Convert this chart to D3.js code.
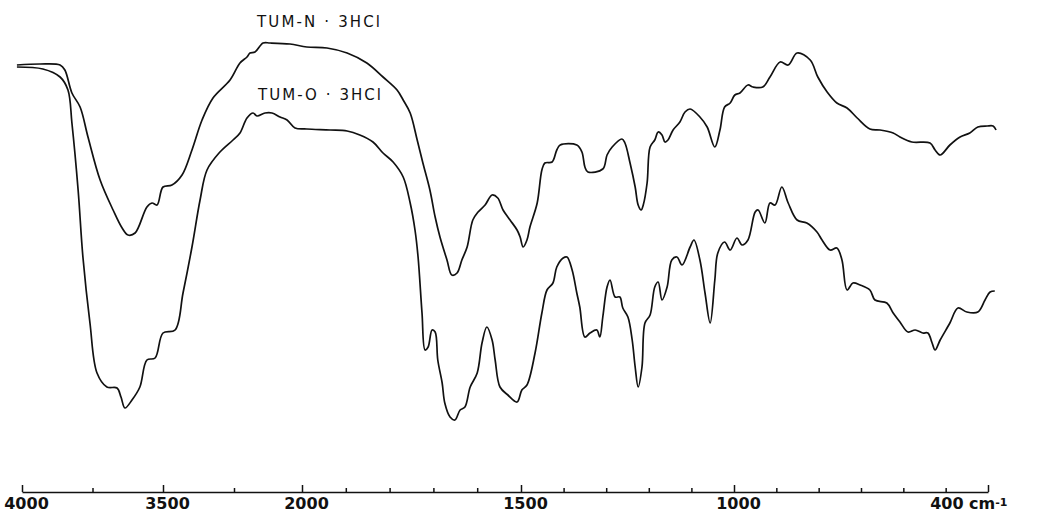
<!DOCTYPE html>
<html>
<head>
<meta charset="utf-8">
<script src="https://cdn.jsdelivr.net/npm/d3@7"></script>
<style>
    body { margin: 0; background: #fff; }
    svg { display: block; }
</style>
</head>
<body>
<div id="spectrum"></div>
<script>
// data (wavenumber in cm-1, transmittance in %)
var seriesNames = ['TUM-N · 3HCl', 'TUM-O · 3HCl'];

var nWave = [4018, 3936, 3865, 3848, 3823, 3794, 3766, 3723, 3677, 3645, 3624, 3599, 3557, 3539, 3521, 3500,
    3437, 3366, 3296, 3225, 3148, 3028, 2912, 2809, 2765, 2691, 2573, 2470, 2176, 1989, 1943, 1897, 1852, 1815,
    1783, 1769, 1753, 1737, 1724, 1708, 1696, 1685, 1669, 1658, 1646, 1635, 1623, 1610, 1598, 1582, 1566, 1553,
    1541, 1525, 1509, 1502, 1495, 1486, 1479, 1462, 1451, 1444, 1427, 1416, 1408, 1369, 1357, 1350, 1343, 1308,
    1298, 1286, 1263, 1256, 1244, 1232, 1225, 1218, 1213, 1204, 1197, 1186, 1178, 1169, 1162, 1155, 1143, 1127,
    1115, 1103, 1080, 1063, 1045, 1033, 1022, 1009, 998, 986, 967, 955, 932, 915, 891, 872, 851, 820, 802, 780,
    757, 733, 709, 679, 655, 624, 608, 580, 537, 525, 513, 490, 466, 443, 424, 402, 388, 381];
var nTrans = [87, 87.2, 87, 86, 81.4, 78.6, 72.6, 64, 58, 54.4, 53, 53.4, 58.6, 59.4, 59, 62.6,
    63, 65, 70, 76, 80.4, 84, 87.4, 88.6, 89.4, 89.6, 91.4, 91.4, 91.2, 90.6, 90.4, 89.4, 87.4, 84.6,
    82, 80, 77.4, 72, 67.4, 62, 56.6, 52.6, 48, 45, 45.4, 48, 50.6, 56, 57.6, 59, 61, 60.4,
    58, 56, 54, 52.6, 50.6, 52, 54.6, 59.4, 66, 67.4, 67.6, 70, 71, 71, 69.6, 66.6, 65.6, 66.2,
    69, 70.6, 72.2, 71.4, 67.4, 62.6, 59, 58, 59, 63.4, 70.6, 72, 73.6, 73, 71.6, 72, 74, 75.6,
    77.6, 78.2, 76.6, 74.6, 70.6, 74, 78.6, 79.4, 81, 81.4, 83, 82.6, 82.6, 84.6, 87.6, 87, 89.4, 88, 84.6, 81.6,
    79.4, 78.4, 76.4, 74.2, 74, 73.4, 72.6, 71.6, 71.4, 70, 69, 71, 72.6, 73.4, 74.6, 74.8, 74.8, 74];

var oWave = [4018, 3926, 3865, 3837, 3823, 3801, 3784, 3759, 3734, 3699, 3663, 3649, 3635, 3610, 3582, 3557,
    3528, 3500, 3415, 3359, 3296, 3239, 3190, 3099, 3007, 2912, 2809, 2720, 2662, 2544, 2441, 2323, 2220, 2103,
    1989, 1936, 1897, 1868, 1838, 1815, 1792, 1769, 1753, 1742, 1735, 1726, 1719, 1712, 1703, 1696, 1690, 1680,
    1674, 1662, 1651, 1639, 1628, 1616, 1600, 1589, 1578, 1566, 1559, 1548, 1530, 1509, 1498, 1486, 1467, 1451,
    1439, 1425, 1416, 1401, 1392, 1380, 1369, 1362, 1350, 1338, 1322, 1315, 1308, 1298, 1291, 1279, 1268, 1261,
    1249, 1239, 1232, 1225, 1216, 1209, 1197, 1186, 1178, 1169, 1157, 1146, 1134, 1122, 1103, 1094, 1080, 1068,
    1056, 1045, 1038, 1022, 1009, 993, 981, 967, 950, 943, 927, 915, 903, 887, 872, 851, 828, 804, 792, 773,
    757, 745, 733, 719, 702, 679, 667, 639, 624, 608, 589, 572, 554, 542, 532, 525, 513, 490, 471, 450, 424,
    407, 395, 384];
var oTrans = [86.6, 86.2, 84.6, 82, 75.4, 62, 48.6, 35.4, 25.4, 22.6, 22.4, 20.6, 18.4, 20, 22.6, 28,
    28.4, 33.4, 34, 41.4, 50.6, 60, 66, 69.6, 72, 73.4, 76.4, 77.4, 76.8, 77.4, 77.4, 76.6, 76, 74.4,
    74.2, 74, 73.8, 73, 71.6, 69.4, 67.6, 64.6, 59.4, 54, 48.6, 37.4, 30, 30.6, 34, 33.6, 28, 23.4,
    19.4, 16.6, 16, 18, 18.6, 22.6, 25.4, 31.4, 34.6, 32, 28, 22.6, 21, 19.6, 22, 23, 29.4, 37.4,
    42, 43.4, 46.6, 48.4, 48.6, 46, 41.4, 38.6, 32.6, 33.4, 34, 32.6, 36.6, 42.6, 44, 40.6, 40.6, 38.4,
    36.6, 32, 26.6, 22.6, 26.6, 35.4, 37, 42.6, 43.6, 40, 42.6, 48, 48.6, 47, 50.6, 52, 48, 41.4,
    35.4, 44, 49.4, 51.6, 50, 52.4, 51, 52, 57.6, 58, 55.4, 59.4, 59, 62.6, 59.4, 56, 55.4, 53.6, 52, 50,
    50.4, 48, 42, 43.4, 43, 42, 40, 39.4, 37.4, 35.6, 33.6, 34, 33.4, 33.4, 31.4, 30, 32, 35.4, 38.4, 37.6, 37.6,
    40, 41.6, 41.8];

var majorTicks = [4000, 3500, 2000, 1500, 1000, 400];
var minorTicks = [3750, 3000, 1900, 1800, 1700, 1600, 1400, 1300, 1200, 1100, 900, 800, 700, 600, 500];

var width = 1051;
var height = 515;
var axisY = 492;

// chart paper scale is not linear in wavenumber, so it is piecewise
var xScale = d3.scaleLinear()
    .domain([4000, 3500, 3000, 2000, 1500, 1000, 400])
    .range([22, 163, 234, 302, 521, 734, 988]);
var yScale = d3.scaleLinear()
    .domain([0, 100])
    .range([500, 0]);

document.addEventListener('DOMContentLoaded', function () {
    var svg = d3.select('#spectrum')
        .append('svg')
        .attr('width', width)
        .attr('height', height);

    svg.append('rect')
        .attr('width', width)
        .attr('height', height)
        .attr('fill', '#fff');

    drawAxis(svg);
    drawCurve(svg, nWave, nTrans);
    drawCurve(svg, oWave, oTrans);
    drawLabels(svg);
});

function drawCurve(svg, wave, trans) {
    var points = wave.map(function (w, i) { return [w, trans[i]]; });
    var line = d3.line()
        .x(function (d) { return xScale(d[0]); })
        .y(function (d) { return yScale(d[1]); })
        .curve(d3.curveCatmullRom.alpha(0.5));

    svg.append('path')
        .datum(points)
        .attr('d', line)
        .attr('fill', 'none')
        .attr('stroke', '#111')
        .attr('stroke-width', 1.7)
        .attr('stroke-linejoin', 'round');
}

function drawAxis(svg) {
    var minorAxis = d3.axisBottom(xScale)
        .tickValues(minorTicks)
        .tickSizeInner(-4)
        .tickSizeOuter(0)
        .tickFormat('');

    var majorAxis = d3.axisBottom(xScale)
        .tickValues(majorTicks)
        .tickSizeInner(-7)
        .tickSizeOuter(0)
        .tickPadding(6)
        .tickFormat(function (d) { return d; });

    var gMinor = svg.append('g')
        .attr('transform', 'translate(0,' + axisY + ')')
        .call(minorAxis);
    gMinor.select('.domain').remove();

    var gMajor = svg.append('g')
        .attr('transform', 'translate(0,' + axisY + ')')
        .call(majorAxis);

    svg.selectAll('.domain, .tick line')
        .attr('stroke', '#111')
        .attr('stroke-width', 1.5);

    gMajor.selectAll('.tick text')
        .attr('fill', '#111')
        .attr('dx', 4)
        .style('font-family', 'DejaVu Sans')
        .style('font-weight', 'bold')
        .style('font-size', '16px');

    // the last label carries the unit
    var last = gMajor.selectAll('.tick text').filter(function (d) { return d === 400; });
    last.text(null)
        .attr('text-anchor', 'end')
        .attr('dx', 19);
    last.append('tspan').text('400 cm');
    last.append('tspan')
        .attr('dy', '-0.35em')
        .style('font-size', '11px')
        .text('-1');
}

function drawLabels(svg) {
    var pos = [[257, 27], [258, 100]];
    seriesNames.forEach(function (name, i) {
        svg.append('text')
            .attr('x', pos[i][0])
            .attr('y', pos[i][1])
            .attr('textLength', 123)
            .attr('lengthAdjust', 'spacing')
            .attr('fill', '#111')
            .style('font-family', 'DejaVu Sans')
            .style('font-size', '15px')
            .text(name);
    });
}
</script>
</body>
</html>
